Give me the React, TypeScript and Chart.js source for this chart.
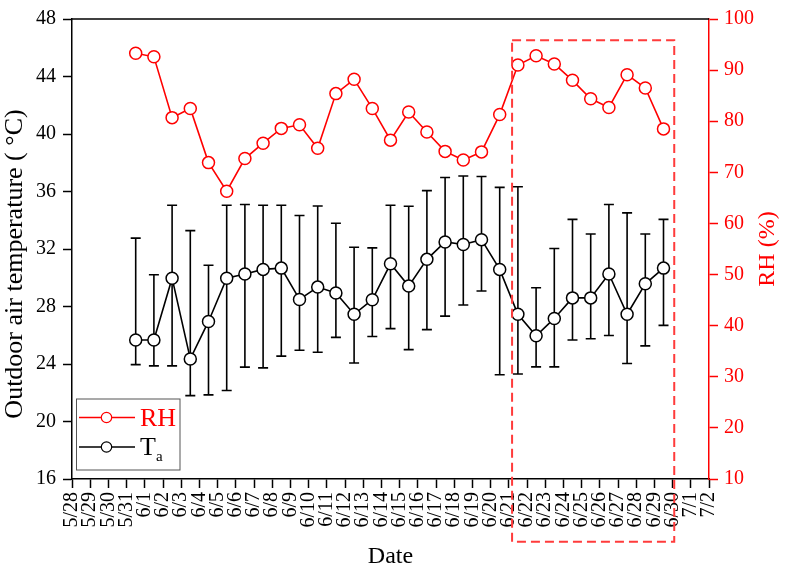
import React, { useEffect, useRef } from "react";
import { Chart, registerables } from "chart.js";

Chart.register(...registerables);

// ---------- data ----------
const DATE_LABELS = [
  "5/28", "5/29", "5/30", "5/31",
  "6/1", "6/2", "6/3", "6/4", "6/5", "6/6", "6/7", "6/8", "6/9", "6/10",
  "6/11", "6/12", "6/13", "6/14", "6/15", "6/16", "6/17", "6/18", "6/19", "6/20",
  "6/21", "6/22", "6/23", "6/24", "6/25", "6/26", "6/27", "6/28", "6/29", "6/30",
  "7/1", "7/2",
];
const FIRST_DAY_INDEX = 3; // first measured day sits between 5/31 and 6/1 ticks

const RH = [
  93.3, 92.6, 80.7, 82.5, 71.9, 66.3, 72.7, 75.7, 78.6, 79.3,
  74.7, 85.4, 88.2, 82.5, 76.3, 81.8, 77.9, 74.1, 72.4, 74.0,
  81.3, 91.0, 92.8, 91.2, 88.0, 84.4, 82.7, 89.1, 86.5, 78.5,
];
const TA = [
  25.67, 25.67, 29.97, 24.35, 26.96, 29.97, 30.26, 30.58, 30.67, 28.49,
  29.35, 28.94, 27.46, 28.47, 30.97, 29.42, 31.28, 32.49, 32.31, 32.65,
  30.58, 27.46, 25.96, 27.17, 28.6, 28.6, 30.26, 27.46, 29.58, 30.67,
];
const TA_UPPER = [
  32.76, 30.21, 35.04, 33.28, 30.87, 35.04, 35.1, 35.04, 35.04, 34.33,
  34.99, 33.79, 32.12, 32.08, 35.04, 34.97, 36.06, 36.97, 37.08, 37.04,
  36.29, 36.33, 29.3, 32.03, 34.06, 33.04, 35.1, 34.51, 33.04, 34.06,
];
const TA_LOWER = [
  23.96, 23.87, 23.87, 21.8, 21.85, 22.16, 23.78, 23.73, 24.55, 24.96,
  24.82, 25.85, 24.07, 25.91, 26.46, 25.0, 26.39, 27.33, 28.1, 29.08,
  23.25, 23.3, 23.8, 23.8, 25.67, 25.76, 25.98, 24.03, 25.26, 26.69,
];

const T_MIN = 16, T_MAX = 48, T_STEP = 4;
const RH_MIN = 10, RH_MAX = 100, RH_STEP = 10;

// highlighted period (x in day-index units, y in temperature units)
const BOX_X = [24.18, 33.09];
const BOX_T = [46.52, 11.63];

const FONT = '"Times New Roman", "Liberation Serif", serif';
const RED = "#ff0000";

const xOf = (i: number) => FIRST_DAY_INDEX + i + 0.5;

const decorPlugin = {
  id: "decor",
  beforeDatasetsDraw(chart: any) {
    const { ctx } = chart;
    const xs = chart.scales.x;
    const ys = chart.scales.y;
    ctx.save();
    ctx.strokeStyle = "#000";
    ctx.lineWidth = 1.6;
    TA.forEach((_, i) => {
      const x = xs.getPixelForValue(xOf(i));
      const yt = ys.getPixelForValue(TA_UPPER[i]);
      const yb = ys.getPixelForValue(TA_LOWER[i]);
      ctx.beginPath();
      ctx.moveTo(x, yt);
      ctx.lineTo(x, yb);
      ctx.moveTo(x - 5, yt);
      ctx.lineTo(x + 5, yt);
      ctx.moveTo(x - 5, yb);
      ctx.lineTo(x + 5, yb);
      ctx.stroke();
    });
    ctx.restore();
  },
  afterDatasetsDraw(chart: any) {
    const { ctx, chartArea } = chart;
    const xs = chart.scales.x;
    const ys = chart.scales.y;
    ctx.save();
    // top frame line
    ctx.strokeStyle = "#000";
    ctx.lineWidth = 1.5;
    ctx.beginPath();
    ctx.moveTo(chartArea.left, chartArea.top);
    ctx.lineTo(chartArea.right, chartArea.top);
    ctx.stroke();

    // dashed highlight box
    const x0 = xs.getPixelForValue(BOX_X[0]);
    const x1 = xs.getPixelForValue(BOX_X[1]);
    const y0 = ys.getPixelForValue(BOX_T[0]);
    const y1 = ys.getPixelForValue(BOX_T[1]);
    ctx.strokeStyle = "#ff3b3b";
    ctx.lineWidth = 2;
    ctx.setLineDash([9, 5]);
    ctx.strokeRect(x0, y0, x1 - x0, y1 - y0);
    ctx.setLineDash([]);

    // legend
    const lx = 76.5, ly = 399, lw = 103.5, lh = 71;
    ctx.fillStyle = "#fff";
    ctx.fillRect(lx, ly, lw, lh);
    ctx.strokeStyle = "#555";
    ctx.lineWidth = 1;
    ctx.strokeRect(lx, ly, lw, lh);
    const rows = [
      { y: 417.5, color: RED },
      { y: 447, color: "#000" },
    ];
    rows.forEach((r) => {
      ctx.strokeStyle = r.color;
      ctx.lineWidth = 1.5;
      ctx.beginPath();
      ctx.moveTo(79, r.y);
      ctx.lineTo(101, r.y);
      ctx.moveTo(112, r.y);
      ctx.lineTo(135, r.y);
      ctx.stroke();
      ctx.beginPath();
      ctx.arc(106.5, r.y, 5.2, 0, Math.PI * 2);
      ctx.fillStyle = "#fff";
      ctx.fill();
      ctx.lineWidth = 1.2;
      ctx.stroke();
    });
    ctx.textAlign = "left";
    ctx.textBaseline = "alphabetic";
    ctx.fillStyle = RED;
    ctx.font = `26px ${FONT}`;
    ctx.fillText("RH", 140, 426);
    ctx.fillStyle = "#000";
    ctx.fillText("T", 140, 455);
    ctx.font = `15px ${FONT}`;
    ctx.fillText("a", 156, 461);

    // axis titles
    ctx.textAlign = "center";
    ctx.textBaseline = "middle";
    const cy = (chartArea.top + chartArea.bottom) / 2;
    ctx.fillStyle = "#000";
    ctx.font = `26px ${FONT}`;
    ctx.save();
    ctx.translate(15, cy + 15);
    ctx.rotate(-Math.PI / 2);
    ctx.fillText("Outdoor air temperature ( °C)", 0, 0);
    ctx.restore();

    ctx.font = `24px ${FONT}`;
    ctx.fillStyle = RED;
    ctx.save();
    ctx.translate(768, cy);
    ctx.rotate(-Math.PI / 2);
    ctx.fillText("RH (%)", 0, 0);
    ctx.restore();

    ctx.fillStyle = "#000";
    ctx.textBaseline = "alphabetic";
    ctx.fillText("Date", (chartArea.left + chartArea.right) / 2, 563);
    ctx.restore();
  },
};

export default function App() {
  const ref = useRef<HTMLCanvasElement>(null);
  useEffect(() => {
    if (!ref.current) return;
    const chart = new Chart(ref.current, {
      type: "line",
      data: {
        datasets: [
          {
            label: "RH",
            yAxisID: "y1",
            data: RH.map((v, i) => ({ x: xOf(i), y: v })),
            borderColor: RED,
            borderWidth: 1.6,
            pointRadius: 6,
            pointBorderWidth: 1.5,
            pointBackgroundColor: "#fff",
            pointBorderColor: RED,
            tension: 0,
          },
          {
            label: "Ta",
            yAxisID: "y",
            data: TA.map((v, i) => ({ x: xOf(i), y: v })),
            borderColor: "#000",
            borderWidth: 1.6,
            pointRadius: 6,
            pointBorderWidth: 1.5,
            pointBackgroundColor: "#fff",
            pointBorderColor: "#000",
            tension: 0,
          },
        ],
      },
      options: {
        animation: false,
        responsive: false,
        maintainAspectRatio: false,
        devicePixelRatio: 1,
        layout: { padding: { top: 10, left: 0, right: 0, bottom: 0 } },
        plugins: { legend: { display: false }, tooltip: { enabled: false } },
        scales: {
          x: {
            type: "linear",
            position: "bottom",
            min: 0,
            max: DATE_LABELS.length - 1,
            afterFit: (s: any) => {
              s.height = 86;
            },
            grid: {
              drawOnChartArea: false,
              drawTicks: true,
              tickLength: 9,
              tickColor: "#000",
              tickWidth: 1.5,
            },
            border: { display: true, color: "#000", width: 1.5 },
            ticks: {
              stepSize: 1,
              autoSkip: false,
              maxTicksLimit: 100,
              minRotation: 90,
              maxRotation: 90,
              padding: 4,
              color: "#000",
              font: { family: FONT, size: 20 },
              callback: (v: any) => DATE_LABELS[Math.round(Number(v))] ?? "",
            },
          },
          y: {
            position: "left",
            min: T_MIN,
            max: T_MAX,
            afterFit: (s: any) => {
              s.width = 72;
            },
            grid: {
              drawOnChartArea: false,
              drawTicks: true,
              tickLength: 9,
              tickColor: "#000",
              tickWidth: 1.5,
            },
            border: { display: true, color: "#000", width: 1.5 },
            ticks: {
              stepSize: T_STEP,
              padding: 7,
              color: "#000",
              font: { family: FONT, size: 20 },
            },
          },
          y1: {
            position: "right",
            min: RH_MIN,
            max: RH_MAX,
            afterFit: (s: any) => {
              s.width = 81;
            },
            grid: {
              drawOnChartArea: false,
              drawTicks: true,
              tickLength: 9,
              tickColor: RED,
              tickWidth: 1.5,
            },
            border: { display: true, color: RED, width: 1.5 },
            ticks: {
              stepSize: RH_STEP,
              padding: 6,
              color: RED,
              font: { family: FONT, size: 20 },
            },
          },
        },
      },
      plugins: [decorPlugin],
    });
    return () => chart.destroy();
  }, []);
  return (
    <div style={{ position: "absolute", left: 0, top: 0, width: 790, height: 565, background: "#fff" }}>
      <canvas ref={ref} width={790} height={565} style={{ width: 790, height: 565 }} />
    </div>
  );
}
